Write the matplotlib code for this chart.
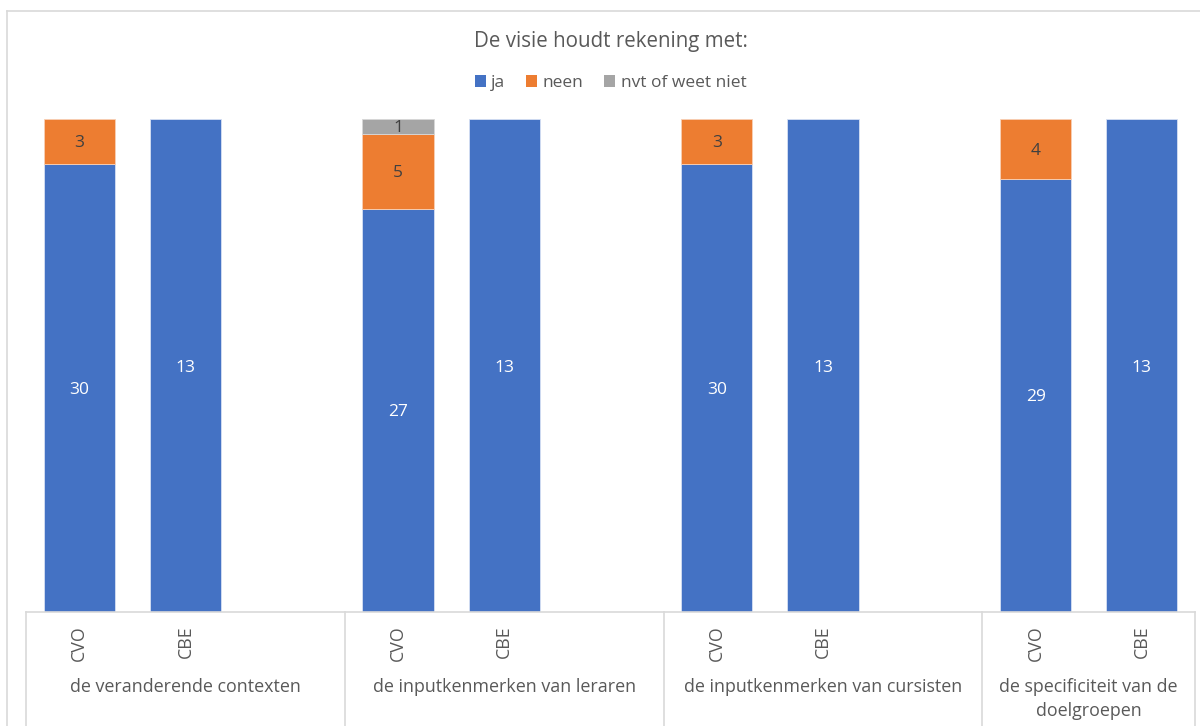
import matplotlib
matplotlib.use("Agg")
import matplotlib.pyplot as plt
from matplotlib.patches import Patch
from matplotlib.lines import Line2D
import matplotlib.transforms as mtransforms

plt.rcParams['font.family'] = ['Open Sans', 'DejaVu Sans']

# ---- data ----
groups = ["de veranderende contexten",
          "de inputkenmerken van leraren",
          "de inputkenmerken van cursisten",
          "de specificiteit van de\ndoelgroepen"]
subgroups = ["CVO", "CBE"]
series = ["ja", "neen", "nvt of weet niet"]
colors = ["#4472C4", "#ED7D31", "#A5A5A5"]

ja_cvo = [30, 27, 30, 29]
neen_cvo = [3, 5, 3, 4]
nvt_cvo = [0, 1, 0, 0]
ja_cbe = [13, 13, 13, 13]
neen_cbe = [0, 0, 0, 0]
nvt_cbe = [0, 0, 0, 0]

title = "De visie houdt rekening met:"

text_col = "#595959"
W, H = 1200, 726
fig = plt.figure(figsize=(W / 100, H / 100), dpi=100)
ax = fig.add_axes([26 / W, 1 - 612 / H, (1195 - 26) / W, (612 - 119) / H])

# each group occupies three category slots (last group two)
positions = []
stacks = []
for g in range(len(groups)):
    positions.append(g * 3)
    stacks.append([ja_cvo[g], neen_cvo[g], nvt_cvo[g]])
    positions.append(g * 3 + 1)
    stacks.append([ja_cbe[g], neen_cbe[g], nvt_cbe[g]])

# nudge value labels slightly downward so they sit optically centred
label_shift = mtransforms.offset_copy(ax.transData, fig=fig, x=0, y=-2, units="dots")

bar_w = 0.67
edge_cols = ["#D6E0F3", "#F8D0B5", "#D8D8D8"]
for x, vals in zip(positions, stacks):
    total = sum(vals)
    bottom = 0.0
    for s, v in enumerate(vals):
        if v == 0:
            continue
        h = v / total
        ax.bar(x, h, bottom=bottom, width=bar_w, color=colors[s],
               edgecolor=edge_cols[s], linewidth=0.6, zorder=2)
        lab_col = "white" if s == 0 else "#404040"
        ax.text(x, bottom + h / 2, str(v), ha="center", va="center",
                fontsize=12.5, color=lab_col, zorder=3, transform=label_shift)
        bottom += h

n_slots = 3 * (len(groups) - 1) + 2
ax.set_xlim(-0.5, n_slots - 0.5)
ax.set_ylim(0, 1)
for sp in ax.spines.values():
    sp.set_visible(False)
ax.set_xticks([])
ax.set_yticks([])

# category axis box
line_col = "#D9D9D9"
trans = mtransforms.blended_transform_factory(ax.transData, ax.transAxes)
ax.add_line(Line2D([-0.5, n_slots - 0.5], [0, 0], transform=trans,
                   color=line_col, lw=1.2, clip_on=False))
bounds = [-0.5] + [g * 3 + 2.5 for g in range(len(groups) - 1)] + [n_slots - 0.5]
for b in bounds:
    ax.add_line(Line2D([b, b], [0, -0.4], transform=trans,
                       color=line_col, lw=1.2, clip_on=False))

px = 1 / (612 - 119)
for x, vals in zip(positions, stacks):
    lab = subgroups[x % 3]
    ax.text(x, -13 * px, lab, transform=trans, rotation=90, ha="center",
            va="top", fontsize=12.8, color=text_col)

for g, name in enumerate(groups):
    lo, hi = bounds[g], bounds[g + 1]
    ax.text((lo + hi) / 2, -66 * px, name, transform=trans, ha="center",
            va="top", fontsize=12.9, color=text_col, linespacing=1.45)

# chart title and legend
fig.text((26 + 1195) / 2 / W, 1 - 41 / H, title, ha="center", va="center",
         fontsize=14.8, color=text_col)
handles = [Patch(facecolor=c, edgecolor="none") for c in colors]
fig.legend(handles, series, loc="center", ncol=3,
           bbox_to_anchor=((26 + 1195) / 2 / W, 1 - 83 / H),
           frameon=False, fontsize=12.5, labelcolor=text_col,
           handlelength=0.65, handleheight=0.65, handletextpad=0.3,
           columnspacing=1.2)

# outer chart frame
fig.add_artist(Line2D([7 / W, 7 / W], [0, 1 - 11 / H], transform=fig.transFigure,
                      color=line_col, lw=1.2))
fig.add_artist(Line2D([7 / W, 1], [1 - 11 / H, 1 - 11 / H], transform=fig.transFigure,
                      color=line_col, lw=1.2))

fig.savefig("out.png", dpi=100, facecolor="white")
